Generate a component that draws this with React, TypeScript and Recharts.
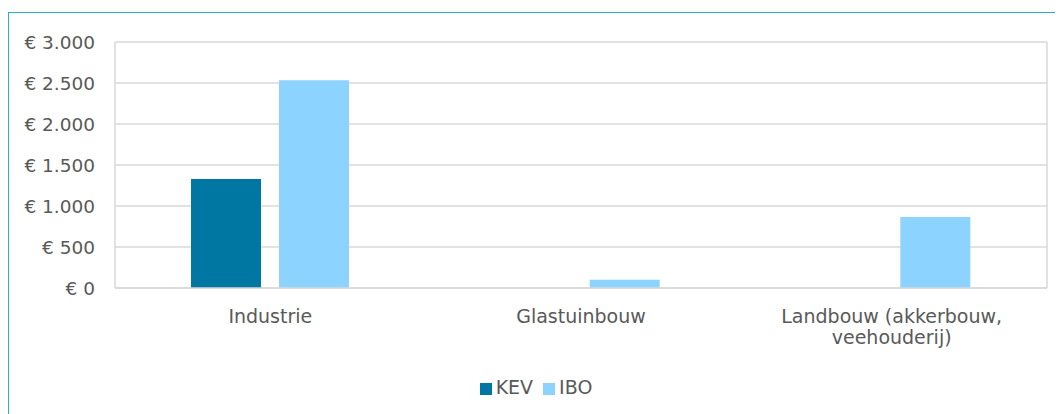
import React from 'react';
import { Bar, BarChart, CartesianGrid, Legend, XAxis, YAxis } from 'recharts';

// Kosten per sector: KEV vs IBO (€).

const CATEGORIES = ['Industrie', 'Glastuinbouw', 'Landbouw (akkerbouw, veehouderij)'];
const KEV = [1330, 0, 0];
const IBO = [2535, 100, 865];
const Y_TICKS = [0, 500, 1000, 1500, 2000, 2500, 3000];
const SERIES_ORDER = ['KEV', 'IBO'];

const FONT = '"DejaVu Sans", Verdana, sans-serif';
const TEXT = '#595959';
const GRID = '#d9d9d9';

const data = CATEGORIES.map((name, i) => ({ name, KEV: KEV[i], IBO: IBO[i] }));

const euro = (v: number) => `€ ${String(v).replace(/\B(?=(\d{3})+(?!\d))/g, '.')}`;

// break long labels after the comma, like the original wraps them
const CategoryTick = (props: any) => {
  const { x, y, payload } = props;
  const lines = String(payload.value).split(/(?<=,) /);
  return (
    <text x={x} y={y} textAnchor="middle" fontSize={19} fontFamily={FONT} fill={TEXT}>
      {lines.map((line, i) => (
        <tspan key={i} x={x} dy={i === 0 ? '0.72em' : 21}>
          {line}
        </tspan>
      ))}
    </text>
  );
};

export default function App() {
  return (
    <div
      style={{
        marginTop: 4,
        width: 1054,
        height: 402,
        borderTop: '1px solid #29abe2',
        borderLeft: '1px solid #29abe2',
        background: '#fff',
        fontFamily: FONT,
      }}
    >
      <BarChart
        width={1054}
        height={400}
        data={data}
        margin={{ top: 29, right: 16, left: 6, bottom: 5 }}
        barSize={70}
        barGap={18}
      >
        <CartesianGrid
          stroke={GRID}
          strokeWidth={1.5}
          verticalCoordinatesGenerator={({ offset }: any) => [offset.left, offset.left + offset.width]}
        />
        <XAxis
          dataKey="name"
          axisLine={{ stroke: GRID, strokeWidth: 1.5 }}
          tickLine={false}
          tickSize={0}
          tickMargin={21}
          height={88}
          interval={0}
          tick={<CategoryTick />}
        />
        <YAxis
          width={100}
          domain={[0, 3000]}
          ticks={Y_TICKS}
          tickFormatter={euro}
          axisLine={false}
          tickLine={false}
          tickSize={0}
          tickMargin={20}
          tick={{ fill: TEXT, fontSize: 18.5, fontFamily: FONT }}
        />
        <Legend
          verticalAlign="bottom"
          height={32}
          iconType="square"
          iconSize={12}
          itemSorter={(item: any) => SERIES_ORDER.indexOf(item.dataKey)}
          wrapperStyle={{ fontSize: 19, fontFamily: FONT, color: TEXT, paddingLeft: 10 }}
          formatter={(value) => <span style={{ color: TEXT }}>{value}</span>}
        />
        <Bar dataKey="KEV" fill="#0077a3" isAnimationActive={false} />
        <Bar dataKey="IBO" fill="#8dd3ff" isAnimationActive={false} />
      </BarChart>
    </div>
  );
}
